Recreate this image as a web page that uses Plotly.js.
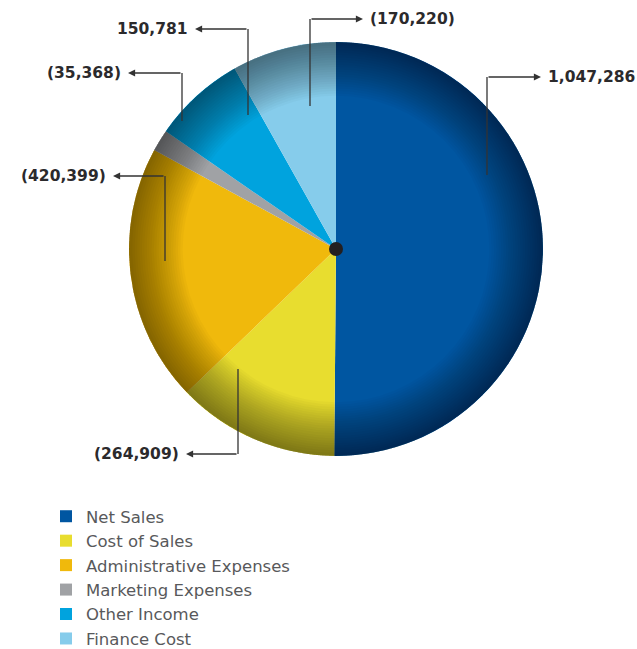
<!DOCTYPE html>
<html>
<head>
<meta charset="utf-8">
<script src="https://cdn.plot.ly/plotly-3.0.1.min.js"></script>
<style>html,body{margin:0;padding:0;background:#fff;overflow:hidden;}#chart{width:637px;height:649px;}</style>
</head>
<body>
<div id="chart"></div>
<script>
// ---- data ----
const categories = ["Net Sales", "Cost of Sales", "Administrative Expenses", "Marketing Expenses", "Other Income", "Finance Cost"];
const amounts = [1047286, -264909, -420399, -35368, 150781, -170220];
const valueLabels = ["1,047,286", "(264,909)", "(420,399)", "(35,368)", "150,781", "(170,220)"];
const sliceColors = ["#0056A1", "#E8DD2F", "#F0B90C", "#A0A2A5", "#00A3DE", "#86CCEB"];

const W = 637, H = 649;
const cx = 336, cy = 249, R = 207;
const px = x => x / W;
const py = y => 1 - y / H;
const dom = { x: [px(cx - R), px(cx + R)], y: [py(cy + R), py(cy - R)] };

const traces = [{
  type: "pie",
  labels: categories,
  values: amounts.map(Math.abs),
  marker: { colors: sliceColors, line: { width: 0 } },
  sort: false,
  direction: "clockwise",
  rotation: 0,
  textinfo: "none",
  hoverinfo: "label+text",
  hovertext: valueLabels,
  domain: dom,
  showlegend: true
}];

// edge shading rings (decorative vignette)
const nRings = 22;
for (let k = 0; k < nRings; k++) {
  const h = 0.74 + (0.995 - 0.74) * k / nRings;
  traces.push({
    type: "pie", values: [1], labels: ["shade" + k], hole: h, sort: false,
    marker: { colors: ["rgba(0,0,0,0.022)"], line: { width: 0 } },
    textinfo: "none", hoverinfo: "skip", showlegend: false, domain: dom
  });
}

// leader line paths (pixel coords): [start inside slice, corner, arrow tip]
const leaders = [
  { pts: [[487, 175], [487, 77], [541, 77]], side: "right" },   // Net Sales
  { pts: [[238, 369], [238, 454], [186, 454]], side: "left" },  // Cost of Sales
  { pts: [[165, 261], [165, 176], [113, 176]], side: "left" },  // Admin
  { pts: [[182, 121], [182, 73], [128, 73]], side: "left" },    // Marketing
  { pts: [[248, 115], [248, 29], [195, 29]], side: "left" },    // Other Income
  { pts: [[310, 106], [310, 19], [363, 19]], side: "right" }    // Finance
];

const shapes = [];
const annotations = [];
leaders.forEach((L, i) => {
  const [a, b, c] = L.pts;
  shapes.push({ type: "line", xref: "paper", yref: "paper", x0: px(a[0]), y0: py(a[1]), x1: px(b[0]), y1: py(b[1]), line: { color: "#333333", width: 1.3 } });
  annotations.push({
    xref: "paper", yref: "paper", x: px(c[0]), y: py(c[1]),
    ax: b[0] - c[0], ay: 0, axref: "pixel", ayref: "pixel",
    text: "", showarrow: true, arrowhead: 2, arrowsize: 1.1, arrowwidth: 1.3, arrowcolor: "#333333"
  });
  const gap = 5;
  annotations.push({
    xref: "paper", yref: "paper",
    x: px(L.side === "right" ? c[0] + gap : c[0] - gap), y: py(c[1]),
    xanchor: L.side === "right" ? "left" : "right", yanchor: "middle",
    text: "<b>" + valueLabels[i] + "</b>", showarrow: false,
    font: { family: "DejaVu Sans", size: 15.5, color: "#2B2A2C" }
  });
});

// center dot
shapes.push({ type: "circle", xref: "paper", yref: "paper", x0: px(cx - 7), x1: px(cx + 7), y0: py(cy + 7), y1: py(cy - 7), fillcolor: "#231F20", line: { width: 0 } });

const layout = {
  width: W, height: H,
  margin: { l: 0, r: 0, t: 0, b: 0, autoexpand: false },
  paper_bgcolor: "#ffffff",
  showlegend: true,
  legend: {
    x: px(46), y: py(499), xanchor: "left", yanchor: "top",
    font: { family: "DejaVu Sans", size: 16.5, color: "#58595B" },
    traceorder: "normal", tracegroupgap: 0, bgcolor: "rgba(0,0,0,0)"
  },
  shapes: shapes,
  annotations: annotations
};

Plotly.newPlot("chart", traces, layout, { displayModeBar: false, staticPlot: true });
</script>
</body>
</html>
